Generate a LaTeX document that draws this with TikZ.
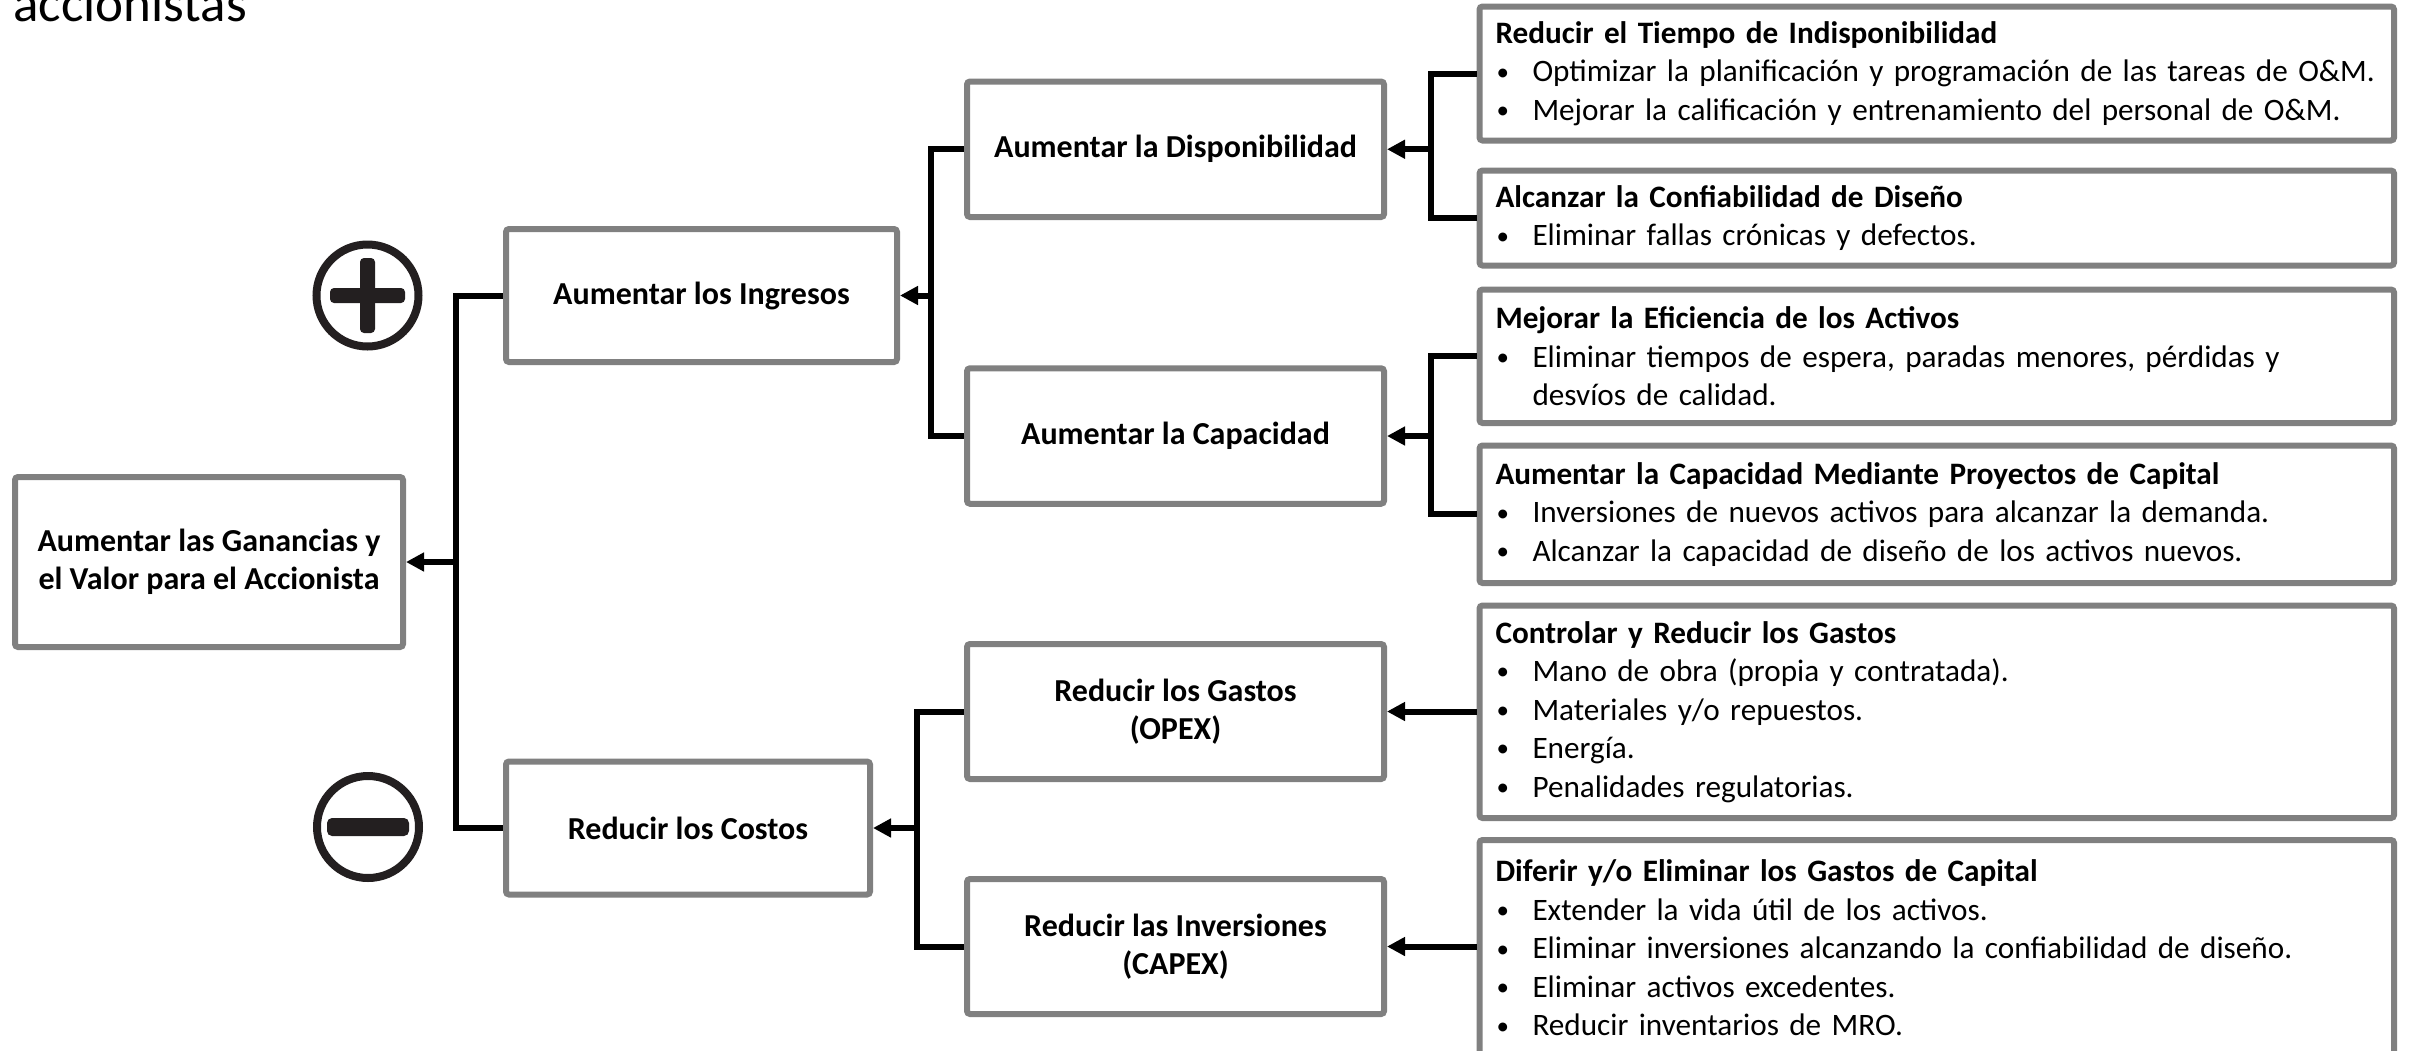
\documentclass[tikz,border=0pt]{standalone}
\usepackage{fontspec}
\setmainfont{Carlito}
\usetikzlibrary{arrows.meta}
\definecolor{boxgray}{HTML}{808080}
\definecolor{icondark}{HTML}{231F20}
\newcommand\bul{\makebox[18.5pt][l]{\hspace{0.6pt}\raisebox{0.8pt}{\fontsize{12.5}{12.5}\selectfont\textbullet}}}
\newcommand\bulcont{\hspace*{18.5pt}}
\begin{document}
\begin{tikzpicture}[x=0.5pt,y=-0.5pt,
  midbox/.style={draw=boxgray, line width=3pt, rounded corners=1.5pt, fill=white,
    align=center, font=\bfseries\fontsize{16}{19.25}\selectfont, inner sep=0pt},
  rbox/.style={draw=boxgray, line width=3pt, rounded corners=1.5pt, fill=white,
    align=left, text width=441.25pt, inner xsep=8pt, inner ysep=0pt,
    minimum width=457.25pt, font=\fontsize{15.6}{19.25}\selectfont},
  conn/.style={line width=3pt, black},
  arr/.style={conn, -{Triangle[length=9pt,width=9pt]}}
]
\useasboundingbox (0,0) rectangle (2413,1050);

% title fragment
\node[anchor=base west, font=\fontsize{26.5}{30}\selectfont, inner sep=0pt] (title) at (13,21) {accionistas};

% left column
\node[midbox, minimum width=194pt, minimum height=85pt] (root) at (209,562)
  {Aumentar las Ganancias y\\el Valor para el Accionista};

\node[midbox, minimum width=195.5pt, minimum height=66.5pt] (ing) at (701.5,295.5) {Aumentar los Ingresos};
\node[midbox, minimum width=182pt, minimum height=66.5pt] (cos) at (688,828) {Reducir los Costos};

\node[midbox, minimum width=208.5pt, minimum height=67.75pt] (disp) at (1175.5,149.25) {Aumentar la Disponibilidad};
\node[midbox, minimum width=208.5pt, minimum height=67.75pt] (cap) at (1175.5,436) {Aumentar la Capacidad};
\node[midbox, minimum width=208.5pt, minimum height=67.5pt] (opex) at (1175.5,711.5) {Reducir los Gastos\\(OPEX)};
\node[midbox, minimum width=208.5pt, minimum height=67.5pt] (capex) at (1175.5,946.5) {Reducir las Inversiones\\(CAPEX)};

% right column
\node[rbox, minimum height=67pt] (r1) at (1936.75,73.5)
  {\textbf{Reducir el Tiempo de Indisponibilidad}\\
   \bul Optimizar la planificación y programación de las tareas de O\&M.\\
   \bul Mejorar la calificación y entrenamiento del personal de O\&M.};
\node[rbox, minimum height=47.5pt] (r2) at (1936.75,218)
  {\textbf{Alcanzar la Confiabilidad de Diseño}\\
   \bul Eliminar fallas crónicas y defectos.};
\node[rbox, minimum height=66.75pt] (r3) at (1936.75,356.25)
  {\textbf{Mejorar la Eficiencia de los Activos}\\
   \bul Eliminar tiempos de espera, paradas menores, pérdidas y\\
   \bulcont desvíos de calidad.};
\node[rbox, minimum height=68.75pt] (r4) at (1936.75,514.25)
  {\textbf{Aumentar la Capacidad Mediante Proyectos de Capital}\\
   \bul Inversiones de nuevos activos para alcanzar la demanda.\\
   \bul Alcanzar la capacidad de diseño de los activos nuevos.};
\node[rbox, minimum height=106.25pt] (r5) at (1936.75,711.75)
  {\textbf{Controlar y Reducir los Gastos}\\
   \bul Mano de obra (propia y contratada).\\
   \bul Materiales y/o repuestos.\\
   \bul Energía.\\
   \bul Penalidades regulatorias.};
\node[rbox, minimum height=108pt] (r6) at (1936.75,948)
  {\textbf{Diferir y/o Eliminar los Gastos de Capital}\\
   \bul Extender la vida útil de los activos.\\
   \bul Eliminar inversiones alcanzando la confiabilidad de diseño.\\
   \bul Eliminar activos excedentes.\\
   \bul Reducir inventarios de MRO.};

% plus / minus icons
\draw[icondark, line width=4pt] (367.5,295.5) circle[radius=25.5pt];
\fill[icondark, rounded corners=2pt] (330,288) rectangle (405,303);
\fill[icondark, rounded corners=2pt] (360,258) rectangle (375,333);
\draw[icondark, line width=4pt] (368,827) circle[radius=25.5pt];
\fill[icondark, rounded corners=2.5pt] (327,818) rectangle (409,836);

% connectors
\coordinate (j1) at (456,562);
\coordinate (j2) at (931,295.5);
\coordinate (j3) at (917,828);
\coordinate (j4) at (1431,149.25);
\coordinate (j5) at (1431,436);

\draw[conn] (ing.west) -| (j1) |- (cos.west);
\draw[arr] (j1) -- (root.east);

\draw[conn] (disp.west) -| (j2) |- (cap.west);
\draw[arr] (j2) -- (ing.east);

\draw[conn] (opex.west) -| (j3) |- (capex.west);
\draw[arr] (j3) -- (cos.east);

\draw[conn] (r1.west) -| (j4) |- (r2.west);
\draw[arr] (j4) -- (disp.east);

\draw[conn] (r3.west) -| (j5) |- (r4.west);
\draw[arr] (j5) -- (cap.east);

\draw[arr] (r5.west |- opex.east) -- (opex.east);
\draw[arr] (r6.west |- capex.east) -- (capex.east);
\end{tikzpicture}
\end{document}
